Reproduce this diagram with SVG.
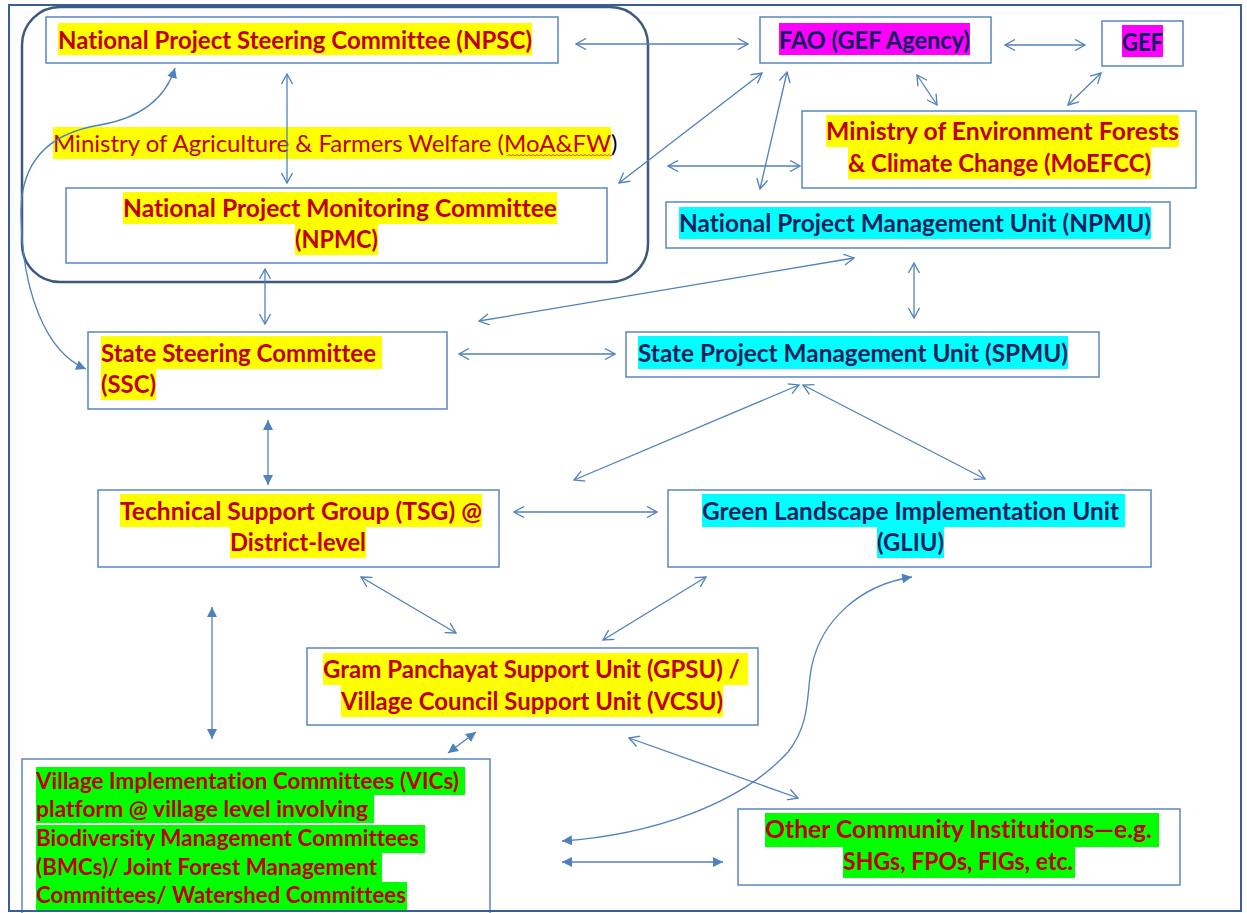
<svg xmlns="http://www.w3.org/2000/svg" width="1247" height="913" viewBox="0 0 1247 913">
<style>
text{font-variant-ligatures:none}
.box{fill:#fff;stroke:#5b86c0;stroke-width:1.5}
.t{font-family:Lato,"Liberation Sans",sans-serif;font-weight:bold;font-size:24.5px;fill:#c00000}
.tb{font-family:Lato,"Liberation Sans",sans-serif;font-weight:bold;font-size:24.5px;fill:#0d1f5c}
.tv{font-family:Lato,"Liberation Sans",sans-serif;font-weight:bold;font-size:22px;fill:#c00000}
.tr{font-family:Lato,"Liberation Sans",sans-serif;font-size:24px;fill:#c00000}
.y{fill:#ffff00}.m{fill:#ff00ff}.c{fill:#00ffff}.g{fill:#00ff00}
.cn line,.cn path{fill:none;stroke:#4f81bd;stroke-width:1.3}
</style>
<defs>
<marker id="o" viewBox="0 0 12 12" refX="11" refY="6" markerWidth="12" markerHeight="12" markerUnits="userSpaceOnUse" orient="auto-start-reverse"><path d="M1,0.5 L11,6 L1,11.5" fill="none" stroke="#4f81bd" stroke-width="1.3"/></marker>
<marker id="f" viewBox="0 0 10 10" refX="10" refY="5" markerWidth="10" markerHeight="10" markerUnits="userSpaceOnUse" orient="auto-start-reverse"><path d="M0,0 L10,5 L0,10 z" fill="#4f81bd"/></marker>
</defs>
<rect x="0" y="0" width="1247" height="913" fill="#fff"/>
<g id="moafw-group">
<rect x="22" y="7" width="626" height="275" rx="38" ry="38" fill="none" stroke="#3c5a80" stroke-width="2.5"/>
<rect class="y" x="53" y="127" width="558" height="32"/>
<text class="tr" x="53" y="152" textLength="558" lengthAdjust="spacingAndGlyphs">Ministry of Agriculture &amp; Farmers Welfare (MoA&amp;FW</text>
<text class="tr" x="611" y="152" style="fill:#000">)</text>
<path d="M507,156 l2,-1.5 l2,1.5 l2,-1.5 l2,1.5 l2,-1.5 l2,1.5 l2,-1.5 l2,1.5 l2,-1.5 l2,1.5 l2,-1.5 l2,1.5 l2,-1.5 l2,1.5 l2,-1.5 l2,1.5 l2,-1.5 l2,1.5 l2,-1.5 l2,1.5 l2,-1.5 l2,1.5 l2,-1.5 l2,1.5 l2,-1.5 l2,1.5 l2,-1.5 l2,1.5 l2,-1.5 l2,1.5 l2,-1.5 l2,1.5 l2,-1.5 l2,1.5 l2,-1.5 l2,1.5 l2,-1.5 l2,1.5 l2,-1.5 l2,1.5 l2,-1.5 l2,1.5 l2,-1.5 l2,1.5 l2,-1.5 l2,1.5 l2,-1.5 l2,1.5 l2,-1.5 l2,1.5 l2,-1.5 l2,1.5 l2,-1.5" fill="none" stroke="#e02020" stroke-width="0.8"/>
</g>
<g id="npsc">
<rect class="box" x="46" y="17" width="512" height="46"/>
<rect class="y" x="58" y="23" width="474" height="32"/>
<text class="t" x="58" y="49" textLength="474" lengthAdjust="spacingAndGlyphs">National Project Steering Committee (NPSC)</text>
</g>
<g id="npmc">
<rect class="box" x="66" y="188" width="541" height="75"/>
<rect class="y" x="123" y="192" width="434" height="32"/>
<rect class="y" x="295" y="224" width="83" height="31"/>
<text class="t" x="123" y="217" textLength="434" lengthAdjust="spacingAndGlyphs">National Project Monitoring Committee</text>
<text class="t" x="295" y="248" textLength="83" lengthAdjust="spacingAndGlyphs">(NPMC)</text>
</g>
<g id="fao">
<rect class="box" x="760" y="17" width="231" height="46"/>
<rect class="m" x="779" y="23" width="191" height="32"/>
<text class="tb" x="779" y="49" textLength="191" lengthAdjust="spacingAndGlyphs">FAO (GEF Agency)</text>
</g>
<g id="gef">
<rect class="box" x="1102" y="21" width="81" height="45"/>
<rect class="m" x="1122" y="25" width="41" height="32"/>
<text class="tb" x="1122" y="51" textLength="41" lengthAdjust="spacingAndGlyphs">GEF</text>
</g>
<g id="moefcc">
<rect class="box" x="802" y="111" width="394" height="77"/>
<rect class="y" x="826" y="115" width="353" height="32"/>
<rect class="y" x="848" y="147" width="303" height="32"/>
<text class="t" x="826" y="140" textLength="353" lengthAdjust="spacingAndGlyphs">Ministry of Environment Forests</text>
<text class="t" x="848" y="172" textLength="303" lengthAdjust="spacingAndGlyphs">&amp; Climate Change (MoEFCC)</text>
</g>
<g id="npmu">
<rect class="box" x="666" y="202" width="504" height="46"/>
<rect class="c" x="679" y="207" width="472" height="32"/>
<text class="tb" x="679" y="232" textLength="472" lengthAdjust="spacingAndGlyphs">National Project Management Unit (NPMU)</text>
</g>
<g id="ssc">
<rect class="box" x="88" y="332" width="359" height="77"/>
<rect class="y" x="101" y="336" width="281" height="33"/>
<rect class="y" x="101" y="369" width="55" height="31"/>
<text class="t" x="101" y="362" textLength="275" lengthAdjust="spacingAndGlyphs">State Steering Committee</text>
<text class="t" x="101" y="393" textLength="55" lengthAdjust="spacingAndGlyphs">(SSC)</text>
</g>
<g id="spmu">
<rect class="box" x="626" y="332" width="473" height="45"/>
<rect class="c" x="638" y="336" width="430" height="33"/>
<text class="tb" x="638" y="362" textLength="430" lengthAdjust="spacingAndGlyphs">State Project Management Unit (SPMU)</text>
</g>
<g id="tsg">
<rect class="box" x="98" y="490" width="401" height="77"/>
<rect class="y" x="120" y="494" width="362" height="33"/>
<rect class="y" x="230" y="527" width="136" height="31"/>
<text class="t" x="120" y="520" textLength="362" lengthAdjust="spacingAndGlyphs">Technical Support Group (TSG) @</text>
<text class="t" x="230" y="551" textLength="136" lengthAdjust="spacingAndGlyphs">District-level</text>
</g>
<g id="gliu">
<rect class="box" x="668" y="490" width="483" height="77"/>
<rect class="c" x="702" y="494" width="423" height="33"/>
<rect class="c" x="877" y="527" width="67" height="31"/>
<text class="tb" x="702" y="520" textLength="417" lengthAdjust="spacingAndGlyphs">Green Landscape Implementation Unit</text>
<text class="tb" x="877" y="551" textLength="67" lengthAdjust="spacingAndGlyphs">(GLIU)</text>
</g>
<g id="gpsu">
<rect class="box" x="307" y="648" width="451" height="77"/>
<rect class="y" x="323" y="653" width="425" height="32"/>
<rect class="y" x="341" y="685" width="382" height="32"/>
<text class="t" x="323" y="678" textLength="417" lengthAdjust="spacingAndGlyphs">Gram Panchayat Support Unit (GPSU) /</text>
<text class="t" x="341" y="710" textLength="382" lengthAdjust="spacingAndGlyphs">Village Council Support Unit (VCSU)</text>
</g>
<g id="vic">
<rect class="box" x="22" y="759" width="468" height="160"/>
<rect class="g" x="36" y="767" width="429" height="28"/>
<rect class="g" x="36" y="795" width="338" height="28"/>
<rect class="g" x="36" y="825" width="389" height="28"/>
<rect class="g" x="36" y="853" width="346" height="29"/>
<rect class="g" x="36" y="882" width="371" height="28"/>
<text class="tv" x="36" y="789" textLength="423" lengthAdjust="spacingAndGlyphs">Village Implementation Committees (VICs)</text>
<text class="tv" x="36" y="817" textLength="332" lengthAdjust="spacingAndGlyphs">platform @ village level involving</text>
<text class="tv" x="36" y="846" textLength="383" lengthAdjust="spacingAndGlyphs">Biodiversity Management Committees</text>
<text class="tv" x="36" y="875" textLength="341" lengthAdjust="spacingAndGlyphs">(BMCs)/ Joint Forest Management</text>
<text class="tv" x="36" y="903" textLength="370" lengthAdjust="spacingAndGlyphs">Committees/ Watershed Committees</text>
</g>
<g id="other">
<rect class="box" x="738" y="809" width="442" height="76"/>
<rect class="g" x="765" y="813" width="394" height="34"/>
<rect class="g" x="843" y="847" width="232" height="31"/>
<text class="t" x="765" y="838" textLength="387" lengthAdjust="spacingAndGlyphs">Other Community Institutions—e.g.</text>
<text class="t" x="843" y="870" textLength="230" lengthAdjust="spacingAndGlyphs">SHGs, FPOs, FIGs, etc.</text>
</g>
<rect x="9" y="5" width="1232" height="906" fill="none" stroke="#3a5f95" stroke-width="2"/>
<g id="connectors" class="cn">
<line x1="576" y1="44" x2="748" y2="44" marker-start="url(#o)" marker-end="url(#o)"/>
<line x1="1005" y1="45" x2="1085" y2="45" marker-start="url(#o)" marker-end="url(#o)"/>
<line x1="917" y1="75" x2="937" y2="105" marker-start="url(#o)" marker-end="url(#o)"/>
<line x1="1101" y1="73" x2="1068" y2="105" marker-start="url(#o)" marker-end="url(#o)"/>
<line x1="762" y1="73" x2="619" y2="183" marker-start="url(#o)" marker-end="url(#o)"/>
<line x1="787" y1="72" x2="760" y2="189" marker-start="url(#o)" marker-end="url(#o)"/>
<line x1="668" y1="166" x2="800" y2="166" marker-start="url(#o)" marker-end="url(#o)"/>
<line x1="287" y1="74" x2="287" y2="183" marker-start="url(#o)" marker-end="url(#o)"/>
<path d="M175,68 C165,100 140,118 100,125 C50,133 20,160 21,215 C22,290 45,352 86,369" marker-start="url(#f)" marker-end="url(#f)"/>
<line x1="265" y1="269" x2="265" y2="324" marker-start="url(#o)" marker-end="url(#o)"/>
<line x1="854" y1="258" x2="479" y2="321" marker-start="url(#o)" marker-end="url(#o)"/>
<line x1="914" y1="263" x2="914" y2="318" marker-start="url(#o)" marker-end="url(#o)"/>
<line x1="459" y1="354" x2="615" y2="354" marker-start="url(#o)" marker-end="url(#o)"/>
<line x1="268" y1="420" x2="268" y2="485" marker-start="url(#f)" marker-end="url(#f)"/>
<line x1="799" y1="385" x2="574" y2="480" marker-start="url(#o)" marker-end="url(#o)"/>
<line x1="803" y1="385" x2="985" y2="479" marker-start="url(#o)" marker-end="url(#o)"/>
<line x1="514" y1="512" x2="657" y2="512" marker-start="url(#o)" marker-end="url(#o)"/>
<line x1="361" y1="577" x2="456" y2="633" marker-start="url(#o)" marker-end="url(#o)"/>
<line x1="706" y1="577" x2="603" y2="640" marker-start="url(#o)" marker-end="url(#o)"/>
<line x1="212" y1="607" x2="212" y2="739" marker-start="url(#f)" marker-end="url(#f)"/>
<line x1="448" y1="753" x2="476" y2="732" marker-start="url(#f)" marker-end="url(#f)"/>
<line x1="629" y1="738" x2="798" y2="798" marker-start="url(#o)" marker-end="url(#o)"/>
<path d="M562,841 C650,835 740,805 788,752 C812,722 806,690 812,665 C822,620 860,585 912,577" marker-start="url(#f)" marker-end="url(#f)"/>
<line x1="562" y1="862" x2="723" y2="862" marker-start="url(#f)" marker-end="url(#f)"/>
</g>
</svg>
